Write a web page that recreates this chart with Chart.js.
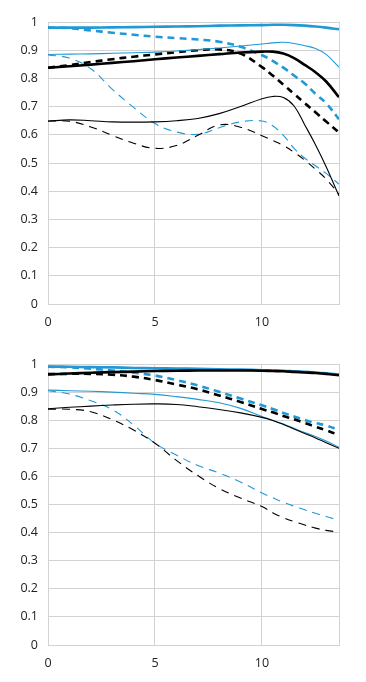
<!DOCTYPE html>
<html>
<head>
<meta charset="utf-8">
<script src="https://cdn.jsdelivr.net/npm/chart.js@4/dist/chart.umd.min.js"></script>
<style>
  html, body { margin: 0; padding: 0; background: #fff; }
  body { width: 366px; height: 682px; position: relative; overflow: hidden; }
  .box { position: absolute; left: 0; width: 366px; }
</style>
</head>
<body>
<div class="box" style="top:0;height:340px"><canvas id="top"></canvas></div>
<div class="box" style="top:340px;height:342px"><canvas id="bottom"></canvas></div>
<script>
// image height in mm
var fieldPos = [0, 1, 2, 3, 4, 5, 6, 7, 8, 9, 10, 10.5, 11, 11.5, 12, 12.5, 13, 13.6];
var xTicks = [0, 5, 10, 13.6];

// upper chart
var topBlueThick       = [0.980, 0.980, 0.980, 0.981, 0.982, 0.983, 0.984, 0.985, 0.987, 0.988, 0.989, 0.990, 0.990, 0.989, 0.987, 0.984, 0.980, 0.974];
var topBlueThickDash   = [0.980, 0.978, 0.970, 0.962, 0.955, 0.948, 0.943, 0.938, 0.930, 0.912, 0.882, 0.862, 0.838, 0.810, 0.782, 0.745, 0.712, 0.655];
var topBlueThin        = [0.885, 0.886, 0.887, 0.889, 0.891, 0.893, 0.897, 0.902, 0.908, 0.915, 0.922, 0.926, 0.928, 0.924, 0.916, 0.906, 0.885, 0.840];
var topBlueThinDash    = [0.883, 0.872, 0.834, 0.762, 0.697, 0.640, 0.610, 0.602, 0.625, 0.646, 0.649, 0.632, 0.598, 0.552, 0.517, 0.490, 0.463, 0.425];
var topBlackThick      = [0.838, 0.843, 0.849, 0.855, 0.861, 0.868, 0.874, 0.880, 0.886, 0.892, 0.895, 0.895, 0.888, 0.872, 0.848, 0.822, 0.789, 0.733];
var topBlackThickDash  = [0.838, 0.847, 0.858, 0.868, 0.877, 0.885, 0.893, 0.900, 0.903, 0.888, 0.840, 0.810, 0.778, 0.745, 0.712, 0.680, 0.647, 0.608];
var topBlackThin       = [0.648, 0.653, 0.650, 0.646, 0.645, 0.646, 0.650, 0.658, 0.675, 0.700, 0.728, 0.736, 0.732, 0.702, 0.635, 0.565, 0.487, 0.383];
var topBlackThinDash   = [0.649, 0.648, 0.628, 0.598, 0.570, 0.552, 0.562, 0.598, 0.635, 0.627, 0.597, 0.580, 0.562, 0.538, 0.510, 0.478, 0.443, 0.390];

// lower chart
var botBlueThick       = [0.991, 0.990, 0.989, 0.988, 0.986, 0.985, 0.984, 0.983, 0.981, 0.980, 0.978, 0.977, 0.976, 0.974, 0.972, 0.970, 0.967, 0.962];
var botBlueThickDash   = [0.990, 0.988, 0.983, 0.977, 0.969, 0.959, 0.943, 0.924, 0.901, 0.877, 0.853, 0.840, 0.826, 0.813, 0.801, 0.790, 0.781, 0.765];
var botBlueThin        = [0.907, 0.905, 0.903, 0.900, 0.896, 0.892, 0.884, 0.874, 0.862, 0.842, 0.813, 0.800, 0.786, 0.771, 0.756, 0.742, 0.726, 0.704];
var botBlueThinDash    = [0.905, 0.893, 0.869, 0.838, 0.783, 0.718, 0.676, 0.639, 0.612, 0.580, 0.541, 0.524, 0.508, 0.494, 0.481, 0.469, 0.457, 0.444];
var botBlackThick      = [0.963, 0.966, 0.969, 0.971, 0.973, 0.975, 0.976, 0.977, 0.977, 0.977, 0.976, 0.975, 0.974, 0.972, 0.970, 0.968, 0.965, 0.960];
var botBlackThickDash  = [0.964, 0.965, 0.965, 0.962, 0.955, 0.943, 0.927, 0.910, 0.888, 0.865, 0.840, 0.828, 0.815, 0.803, 0.790, 0.777, 0.764, 0.747];
var botBlackThin       = [0.841, 0.846, 0.850, 0.854, 0.857, 0.858, 0.856, 0.848, 0.838, 0.826, 0.810, 0.799, 0.785, 0.769, 0.753, 0.737, 0.720, 0.700];
var botBlackThinDash   = [0.839, 0.839, 0.830, 0.802, 0.765, 0.718, 0.657, 0.603, 0.557, 0.523, 0.493, 0.471, 0.453, 0.439, 0.427, 0.416, 0.408, 0.402];

var BLUE = '#2199d6';
var BLACK = '#000000';
var GRID = '#d3d3d3';

function line(values, color, thick, dashed) {
    return {
        data: values.map(function (v, i) { return {x: fieldPos[i], y: v}; }),
        borderColor: color,
        borderWidth: thick ? 2.6 : 1.1,
        borderDash: dashed ? (thick ? [7, 5] : [8, 6]) : [],
        pointRadius: 0,
        fill: false,
        tension: 0.4
    };
}

function makeChart(id, sets, padTop, xHeight) {
    var ctx = document.getElementById(id).getContext('2d');
    return new Chart(ctx, {
        type: 'line',
        data: {datasets: sets},
        options: {
            responsive: true,
            maintainAspectRatio: false,
            animation: false,
            events: [],
            layout: {padding: {top: padTop, right: 27, left: 0, bottom: 0}},
            plugins: {legend: {display: false}, tooltip: {enabled: false}},
            scales: {
                x: {
                    type: 'linear',
                    min: 0,
                    max: 13.6,
                    afterBuildTicks: function (s) {
                        s.ticks = xTicks.map(function (v) { return {value: v}; });
                    },
                    afterFit: function (s) { s.height = xHeight; },
                    grid: {color: GRID, drawTicks: false},
                    border: {color: GRID},
                    ticks: {
                        padding: 11,
                        color: '#222',
                        font: {family: 'Open Sans', size: 12.5},
                        maxRotation: 0,
                        autoSkip: false,
                        callback: function (v) { return v === 13.6 ? '' : v; }
                    }
                },
                y: {
                    min: 0,
                    max: 1,
                    afterFit: function (s) { s.width = 48; },
                    grid: {color: GRID, drawTicks: false},
                    border: {color: GRID},
                    ticks: {
                        stepSize: 0.1,
                        padding: 10,
                        color: '#222',
                        font: {family: 'Open Sans', size: 12.5},
                        callback: function (v) { return String(Number(v.toFixed(1))); }
                    }
                }
            }
        }
    });
}

makeChart('top', [
    line(topBlackThin, BLACK, false, false),
    line(topBlackThinDash, BLACK, false, true),
    line(topBlueThin, BLUE, false, false),
    line(topBlueThinDash, BLUE, false, true),
    line(topBlackThick, BLACK, true, false),
    line(topBlackThickDash, BLACK, true, true),
    line(topBlueThick, BLUE, true, false),
    line(topBlueThickDash, BLUE, true, true)
], 22, 36);

makeChart('bottom', [
    line(botBlackThin, BLACK, false, false),
    line(botBlackThinDash, BLACK, false, true),
    line(botBlueThin, BLUE, false, false),
    line(botBlueThinDash, BLUE, false, true),
    line(botBlackThick, BLACK, true, false),
    line(botBlackThickDash, BLACK, true, true),
    line(botBlueThick, BLUE, true, false),
    line(botBlueThickDash, BLUE, true, true)
], 24, 37);
</script>
</body>
</html>
